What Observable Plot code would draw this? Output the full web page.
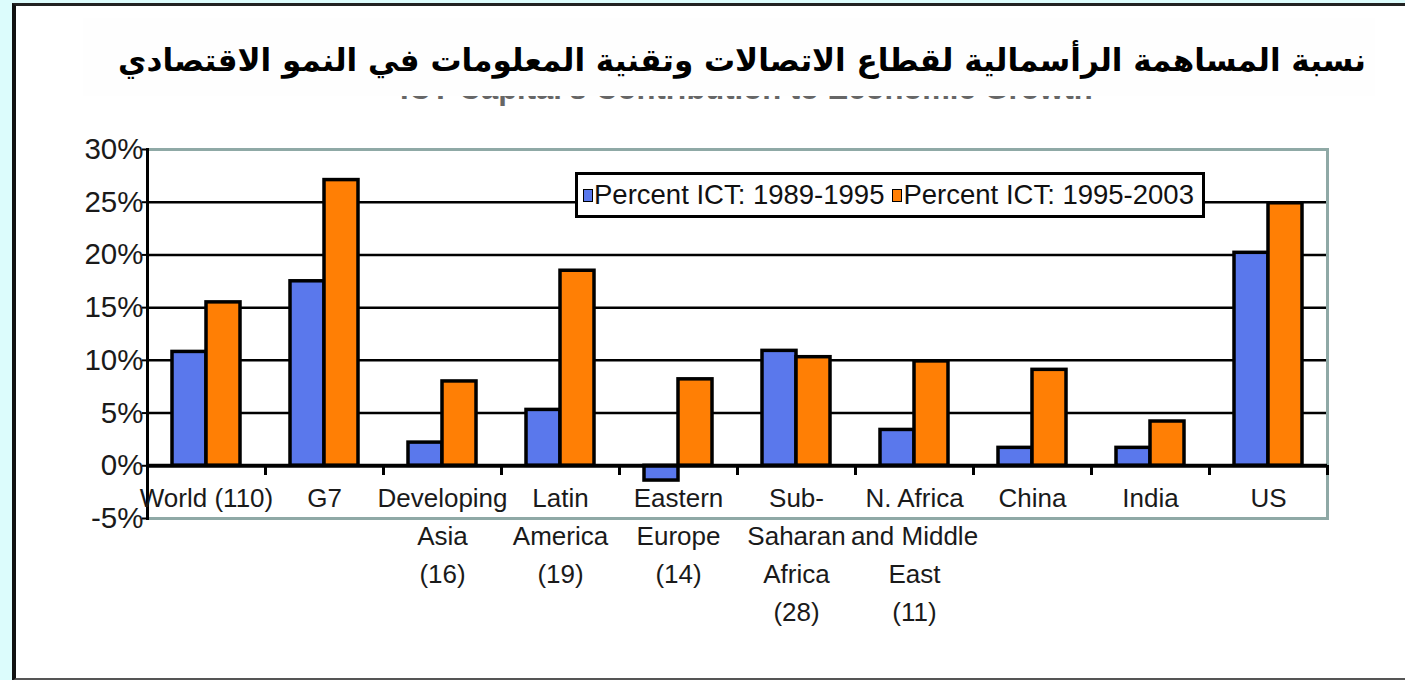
<!DOCTYPE html>
<html>
<head>
<meta charset="utf-8">
<script src="https://cdn.jsdelivr.net/npm/d3@7"></script>
<script src="https://cdn.jsdelivr.net/npm/@observablehq/plot@0.6"></script>
<style>
  html, body { margin: 0; padding: 0; }
  body { width: 1405px; height: 680px; background: #dcfcfc; position: relative; overflow: hidden; font-family: "Liberation Sans", Arial, sans-serif; }
  #card { position: absolute; left: 12px; top: 3px; width: 1393px; height: 672px; background: #fff; border-left: 4px solid #111; border-top: 3px solid #222; border-bottom: 3px solid #555; box-sizing: content-box; }
  #subtitle { position: absolute; left: 400px; top: 69px; font: bold 31px "Liberation Sans", Arial, sans-serif; color: #666; white-space: nowrap; line-height: 40px; }
  #titlebox { position: absolute; left: 83px; top: 18px; width: 1292px; height: 78px; background: #fefefe; }
  #title { position: absolute; right: 39px; top: 38px; font: bold 31px "DejaVu Sans", sans-serif; direction: rtl; white-space: nowrap; color: #000; line-height: 44px; }
  #chart { position: absolute; left: 0; top: 0; }
  #legend { position: absolute; left: 575px; top: 172px; width: 619px; height: 40px; border: 3px solid #000; background: #fff; display: flex; align-items: center; font-size: 27.5px; color: #111; white-space: nowrap; padding-left: 5px; overflow: hidden; }
  .sw { display: inline-block; width: 8px; height: 11px; border: 1.5px solid #000; margin-right: 1px; }
  .item { display: flex; align-items: center; margin-right: 8px; }
</style>
</head>
<body>
<div id="card"></div>
<div id="subtitle"></div>
<div id="titlebox"></div>
<div id="title"></div>
<div id="chart"></div>
<div id="legend"></div>
<script>
// ---- data ----
const titleText = "نسبة المساهمة الرأسمالية لقطاع الاتصالات وتقنية المعلومات في النمو الاقتصادي";
const subtitleText = "ICT Capital's Contribution to Economic Growth";
const categories = ["World (110)", "G7", "Developing Asia (16)", "Latin America (19)", "Eastern Europe (14)", "Sub-Saharan Africa (28)", "N. Africa and Middle East (11)", "China", "India", "US"];
const categoryLabels = ["World (110)", "G7", "Developing\nAsia\n(16)", "Latin\nAmerica\n(19)", "Eastern\nEurope\n(14)", "Sub-\nSaharan\nAfrica\n(28)", "N. Africa\nand Middle\nEast\n(11)", "China", "India", "US"];
const seriesNames = ["Percent ICT: 1989-1995", "Percent ICT: 1995-2003"];
const ict1989_1995 = [10.8, 17.5, 2.2, 5.3, -1.4, 10.9, 3.4, 1.7, 1.7, 20.2];
const ict1995_2003 = [15.5, 27.1, 8.0, 18.5, 8.2, 10.3, 9.9, 9.1, 4.2, 24.9];
const yTicks = [-5, 0, 5, 10, 15, 20, 25, 30];
const gridLines = [5, 10, 15, 20, 25];
const frameLines = [30, -5];
const seriesColors = ["#5a78ec", "#ff7f05"];

// ---- build table ----
const rows = [];
categories.forEach((c, i) => {
  rows.push({region: c, series: seriesNames[0], value: ict1989_1995[i]});
  rows.push({region: c, series: seriesNames[1], value: ict1995_2003[i]});
});
const labelOf = new Map(categories.map((c, i) => [c, categoryLabels[i]]));

document.getElementById("title").textContent = titleText;
document.getElementById("subtitle").textContent = subtitleText;

const gray = "#8fa9a6";
const chart = Plot.plot({
  width: 1405,
  height: 680,
  marginLeft: 147,
  marginRight: 78,
  marginTop: 149,
  marginBottom: 162,
  style: {background: "transparent", color: "#1a1a1a", fontFamily: "'Liberation Sans', Arial, sans-serif"},
  fx: {domain: categories, padding: 0, axis: null},
  x: {domain: seriesNames, paddingInner: 0, paddingOuter: 0.71, axis: null},
  y: {domain: [-5, 30]},
  color: {domain: seriesNames, range: seriesColors},
  marks: [
    Plot.ruleY(gridLines, {stroke: "#000", strokeWidth: 2.5}),
    Plot.ruleY(frameLines, {stroke: gray, strokeWidth: 3}),
    Plot.frame({anchor: "right", facetAnchor: "right", stroke: gray, strokeWidth: 3}),
    Plot.barY(rows, {fx: "region", x: "series", y: "value", fill: "series", stroke: "#000", strokeWidth: 3.5}),
    Plot.ruleY([0], {stroke: "#000", strokeWidth: 4}),
    Plot.frame({anchor: "left", stroke: "#000", strokeWidth: 3, insetTop: 317, insetBottom: 45}),
    Plot.frame({anchor: "right", facetAnchor: "right", stroke: "#000", strokeWidth: 3, insetTop: 317, insetBottom: 45}),
    Plot.frame({anchor: "left", facetAnchor: "left", stroke: "#000", strokeWidth: 3}),
    Plot.axisY(yTicks, {tickFormat: d => d + "%", tickSize: 5, tickPadding: -1, fontSize: 29.5, stroke: "#000", strokeWidth: 2, label: null}),
    Plot.text(categories, {fx: d => d, y: () => 0, text: d => labelOf.get(d), dy: 14, lineAnchor: "top", lineHeight: 1.46, fontSize: 26, fill: "#1a1a1a"})
  ]
});
document.getElementById("chart").appendChild(chart);

// legend
const legend = document.getElementById("legend");
seriesNames.forEach((s, i) => {
  const item = document.createElement("span");
  item.className = "item";
  const sw = document.createElement("span");
  sw.className = "sw";
  sw.style.background = seriesColors[i];
  item.appendChild(sw);
  item.appendChild(document.createTextNode(s));
  legend.appendChild(item);
});
</script>
</body>
</html>
